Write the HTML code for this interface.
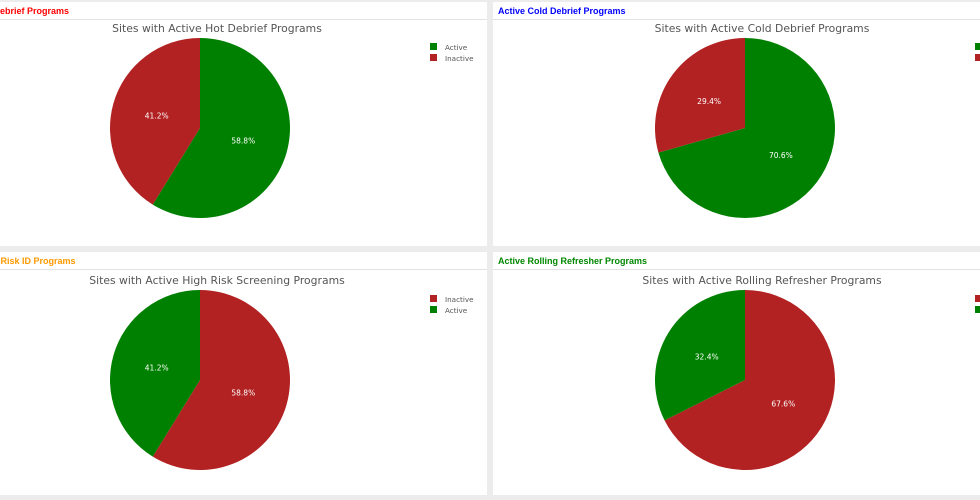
<!DOCTYPE html>
<html><head><meta charset="utf-8"><style>
body{margin:0;width:980px;height:500px;background:#ececec;overflow:hidden;position:relative;font-family:"Liberation Sans",sans-serif}
.panel{position:absolute;background:#fff;overflow:hidden}
.hdr{position:absolute;left:0;right:0;top:0;height:17px;border-bottom:1px solid #e3e3e3;font-weight:bold;font-size:9px;line-height:19px;padding-left:5px;white-space:nowrap}
svg{position:absolute;left:0;top:0}
</style></head><body>
<div class="panel" style="left:0;top:2px;width:487px;height:244px"><div class="hdr" style="color:#f00;padding-left:0"><span style="margin-left:-24px">Hot Debrief Programs</span></div></div>
<div class="panel" style="left:493px;top:2px;width:500px;height:244px"><div class="hdr" style="color:#00f">Active Cold Debrief Programs</div></div>
<div class="panel" style="left:0;top:252px;width:487px;height:243px"><div class="hdr" style="color:#f90;padding-left:0"><span style="margin-left:-22px">High Risk ID Programs</span></div></div>
<div class="panel" style="left:493px;top:252px;width:500px;height:243px"><div class="hdr" style="color:#080">Active Rolling Refresher Programs</div></div>
<svg id="c" width="980" height="500"></svg>
<script>
const chartTitles=["Sites with Active Hot Debrief Programs","Sites with Active Cold Debrief Programs","Sites with Active High Risk Screening Programs","Sites with Active Rolling Refresher Programs"];
const sliceLabels=[["Active","Inactive"],["Active","Inactive"],["Inactive","Active"],["Inactive","Active"]];
const sliceValues=[[58.8,41.2],[70.6,29.4],[58.8,41.2],[67.6,32.4]];
const colorMap={Active:"#008000",Inactive:"#b22222"};
const centers=[[200,128],[745,128],[200,380],[745,380]];
const R=90,NS="http://www.w3.org/2000/svg",svg=document.getElementById('c');
function mk(t,a){const e=document.createElementNS(NS,t);for(const k in a)e.setAttribute(k,a[k]);svg.appendChild(e);return e;}
function pt(cx,cy,r,f){const a=f*2*Math.PI;return [cx+r*Math.sin(a),cy-r*Math.cos(a)];}
chartTitles.forEach((title,i)=>{
 const [cx,cy]=centers[i];
 const t=mk('text',{x:cx+17,y:cy-96,'text-anchor':'middle','font-size':'10.8','fill':'#555','font-family':'"DejaVu Sans",sans-serif'});
 
 
 t.textContent=title;
 const tot=sliceValues[i].reduce((a,b)=>a+b,0);let acc=0;
 sliceValues[i].forEach((v,j)=>{
  const f0=acc/tot,f1=(acc+v)/tot;acc+=v;
  const p0=pt(cx,cy,R,f0),p1=pt(cx,cy,R,f1);
  const p=mk('path',{d:`M${cx},${cy}L${p0[0]},${p0[1]}A${R},${R} 0 ${f1-f0>0.5?1:0} 1 ${p1[0]},${p1[1]}Z`,fill:colorMap[sliceLabels[i][j]]});
  
  
  const m=pt(cx,cy,R*0.5,(f0+f1)/2);
  const l=mk('text',{x:m[0],y:m[1]+3,'text-anchor':'middle','font-size':'7.5',fill:'#fff','font-family':'"DejaVu Sans",sans-serif'});
  
  
  l.textContent=v.toFixed(1)+'%';
  const lx=cx+230,ly=cy-81+j*11;
  const r=mk('rect',{x:lx,y:ly-4,width:7,height:7,fill:colorMap[sliceLabels[i][j]]});
  
  
  const lt=mk('text',{x:lx+15,y:ly+3,'font-size':'7.2',fill:'#555','font-family':'"DejaVu Sans",sans-serif'});
  
  
  lt.textContent=sliceLabels[i][j];
 });
});
</script>
</body></html>
